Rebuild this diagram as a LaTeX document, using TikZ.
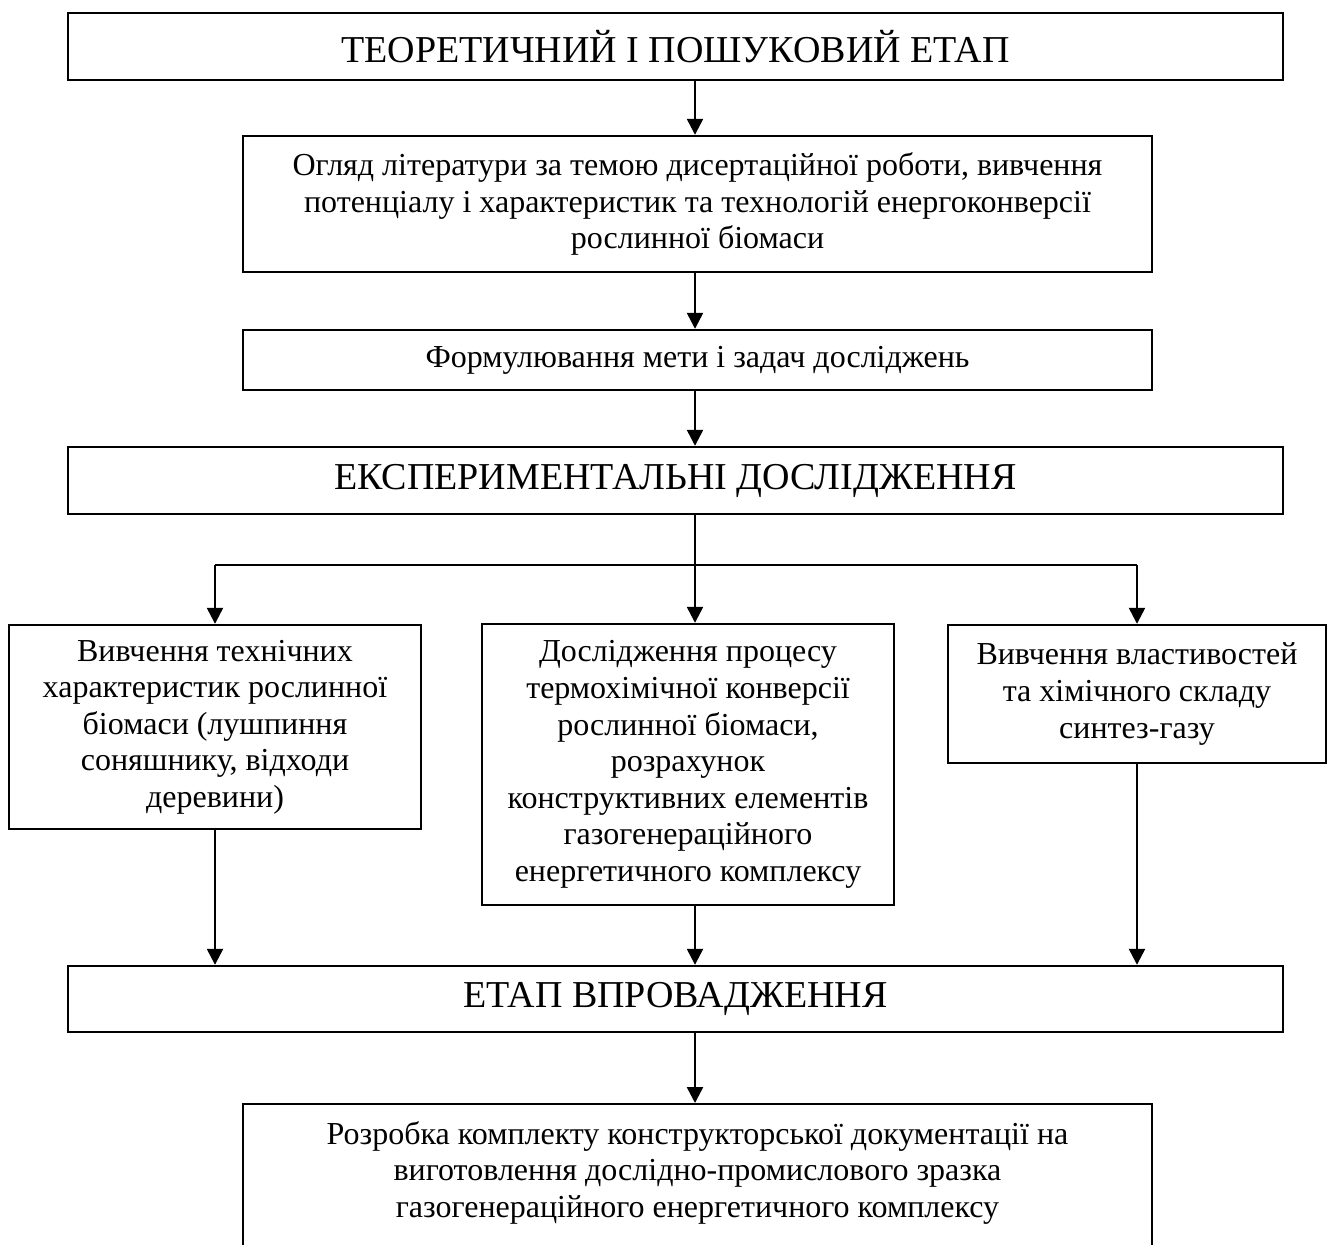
\documentclass[tikz,border=0pt]{standalone}
\usepackage{fontspec}
\setmainfont{Liberation Serif}
\usetikzlibrary{arrows.meta,positioning,calc}

\begin{document}
\begin{tikzpicture}[
  x=0.5pt,y=-0.5pt,
  box/.style={rectangle,draw=black,line width=1.2pt,align=center,inner sep=0pt,
    font=\fontsize{16}{18.3}\selectfont},
  stage/.style={box,font=\fontsize{19}{22}\selectfont},
  arr/.style={-{Triangle[length=8pt,width=8pt]},line width=1.2pt},
  line/.style={line width=1.2pt},
]
  \useasboundingbox (0,0) rectangle (1328,1244);
  % main column
  \node[stage,minimum width=607.5pt,minimum height=33.5pt] (theory) at (675.5,46.5)
    {ТЕОРЕТИЧНИЙ І ПОШУКОВИЙ ЕТАП};
  \node[box,minimum width=454.5pt,minimum height=68pt] (review) at (697.5,204)
    {Огляд літератури за темою дисертаційної роботи, вивчення\\
     потенціалу і характеристик та технологій енергоконверсії\\
     рослинної біомаси};
  \node[box,minimum width=454.5pt,minimum height=30pt] (goal) at (697.5,360)
    {Формулювання мети і задач досліджень};
  \node[stage,minimum width=607.5pt,minimum height=33.5pt] (exper) at (675.5,480.5)
    {ЕКСПЕРИМЕНТАЛЬНІ ДОСЛІДЖЕННЯ};
  % three branches
  \node[box,minimum width=206pt,minimum height=102pt] (tech) at (215,727)
    {Вивчення технічних\\ характеристик рослинної\\ біомаси (лушпиння\\
     соняшнику, відходи\\ деревини)};
  \node[box,minimum width=206pt,minimum height=140.5pt] (conv) at (688,764.5)
    {Дослідження процесу\\ термохімічної конверсії\\ рослинної біомаси,\\
     розрахунок\\ конструктивних елементів\\ газогенераційного\\
     енергетичного комплексу};
  \node[box,minimum width=189pt,minimum height=69pt] (gas) at (1137,694)
    {Вивчення властивостей\\ та хімічного складу\\ синтез-газу};
  \node[stage,minimum width=607.5pt,minimum height=33pt] (impl) at (675.5,999)
    {ЕТАП ВПРОВАДЖЕННЯ};
  \node[box,anchor=north,minimum width=454.5pt,inner ysep=8.5pt,text depth=60pt] (design)
    at (697.5,1103)
    {Розробка комплекту конструкторської документації на\\
     виготовлення дослідно-промислового зразка\\
     газогенераційного енергетичного комплексу};
  \coordinate (split) at (695,565);
  % connectors
  \draw[arr] (split |- theory.south) -- (split |- review.north);
  \draw[arr] (split |- review.south) -- (split |- goal.north);
  \draw[arr] (split |- goal.south) -- (split |- exper.north);
  \draw[line] (split |- exper.south) -- (split);
  \draw[line] (split -| tech.north) -- (split -| gas.north);
  \draw[arr] (split) -- (split |- conv.north);
  \draw[arr] (split |- conv.south) -- (split |- impl.north);
  \foreach \n in {tech,gas}{
    \draw[arr] (split -| \n.north) -- (\n.north);
    \draw[arr] (\n.south) -- (\n.south |- impl.north);
  }
  \draw[arr] (split |- impl.south) -- (split |- design.north);
\end{tikzpicture}
\end{document}
